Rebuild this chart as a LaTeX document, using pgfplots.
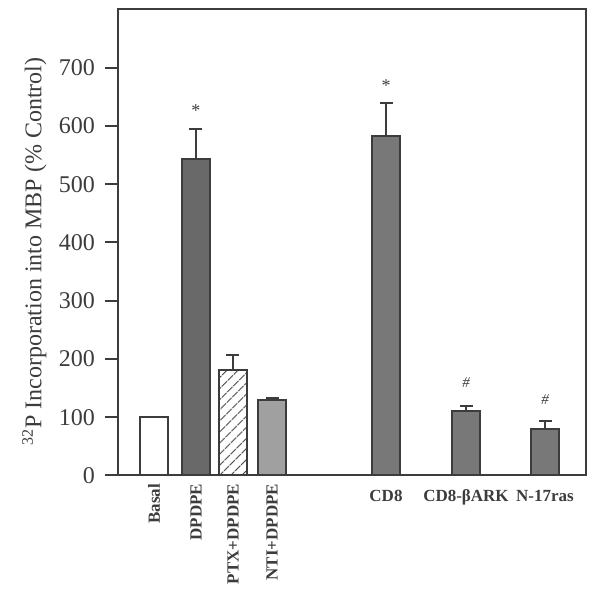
\documentclass[border=0pt]{standalone}
\usepackage{fontspec}
\setmainfont{Liberation Serif}
\usepackage{pgfplots}
\pgfplotsset{compat=1.18}
\usetikzlibrary{patterns.meta,calc}
\definecolor{barDark}{RGB}{105,105,105}
\definecolor{barMid}{RGB}{120,120,120}
\definecolor{barLight}{RGB}{160,160,160}
\definecolor{ink}{RGB}{60,60,60}

\begin{document}
\begin{tikzpicture}
\begin{axis}[
  name=ax,
  scale only axis,
  width=234pt,height=233pt,
  xmin=118,xmax=586,ymin=0,ymax=800,
  ytick={0,100,...,700},
  ytick pos=left,
  tick align=outside,
  major tick length=6.5pt,
  ytick style={line width=1pt,ink},
  xtick={154,196,233,272,386,466,545},
  xticklabels={\rotatebox{90}{Basal},\rotatebox{90}{DPDPE},
    \rotatebox{90}{PTX+DPDPE},\rotatebox{90}{NTI+DPDPE},
    \rule{0pt}{9pt}CD8,\rule{0pt}{9pt}CD8-βARK,\rule{0pt}{9pt}N-17ras},
  xtick style={draw=none},
  x tick label style={anchor=north,inner sep=0pt,yshift=2.5pt,
    font=\fontsize{8.5}{10}\selectfont\bfseries,text=ink},
  y tick label style={font=\fontsize{12}{14}\selectfont,text=ink,xshift=-1.5pt},
  /pgf/number format/assume math mode=true,
  axis line style={line width=1pt,ink},
  ylabel={\textsuperscript{32}P Incorporation into MBP (\% Control)},
  ylabel style={font=\fontsize{12}{14}\selectfont,text=ink,
    at={($(rel axis cs:0,0.48)+(-35.5pt,0)$)},anchor=south,inner sep=0pt},
  error bars/error bar style={line width=1pt,ink},
  error bars/error mark options={rotate=90,mark size=3.25pt,line width=1pt,ink},
]
% Basal
\addplot[ybar,bar width=28,fill=white,draw=ink,line width=1pt]
  coordinates {(154,100)};
% DPDPE
\addplot[ybar,bar width=28,fill=barDark,draw=ink,line width=1pt,
  error bars/.cd,y dir=plus,y explicit]
  coordinates {(196,544) +- (0,50)};
% PTX+DPDPE
\addplot[ybar,bar width=28,fill=white,draw=ink,line width=1pt,
  postaction={pattern={Lines[angle=45,distance=4pt,line width=0.6pt]},pattern color=ink},
  error bars/.cd,y dir=plus,y explicit]
  coordinates {(233,181) +- (0,26)};
% NTI+DPDPE
\addplot[ybar,bar width=28,fill=barLight,draw=ink,line width=1pt,
  error bars/.cd,y dir=plus,y explicit]
  coordinates {(272,130) +- (0,3)};
% CD8, CD8-bARK, N-17ras
\addplot[ybar,bar width=28,fill=barMid,draw=ink,line width=1pt,
  error bars/.cd,y dir=plus,y explicit]
  coordinates {(386,582) +- (0,58) (466,111) +- (0,9) (545,79) +- (0,15)};

\node[font=\fontsize{9}{10}\selectfont,text=ink] at (axis cs:196,626) {*};
\node[font=\fontsize{9}{10}\selectfont,text=ink] at (axis cs:386,670) {*};
\node[font=\fontsize{7.5}{8}\selectfont\itshape,text=ink] at (axis cs:466,160) {\#};
\node[font=\fontsize{7.5}{8}\selectfont\itshape,text=ink] at (axis cs:545,130) {\#};
\end{axis}
\pgfresetboundingbox
\path[use as bounding box] ([xshift=-59pt,yshift=-58.5pt]ax.south west)
  rectangle ([xshift=7pt,yshift=4.75pt]ax.north east);
\end{tikzpicture}
\end{document}
